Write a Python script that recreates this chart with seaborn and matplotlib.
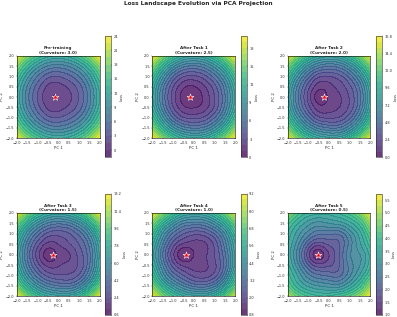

import matplotlib
matplotlib.use("Agg")
import matplotlib.pyplot as plt
import matplotlib.tri as mtri
import numpy as np
import seaborn as sns

W, H = 397, 317

pc_axis = [-2.0, -1.5, -1.0, -0.5, 0.0, 0.5, 1.0, 1.5, 2.0]
axis_ticks = [-2.0, -1.5, -1.0, -0.5, 0.0, 0.5, 1.0, 1.5, 2.0]

titles = [
    "Pre-training\n(Curvature: 3.0)",
    "After Task 1\n(Curvature: 2.5)",
    "After Task 2\n(Curvature: 2.0)",
    "After Task 3\n(Curvature: 1.5)",
    "After Task 4\n(Curvature: 1.0)",
    "After Task 5\n(Curvature: 0.5)",
]

# minimum found in each panel (the star)
star_x = [-0.15, -0.2, -0.23, -0.26, -0.39, -0.52]
star_y = [0.0, 0.0, 0.0, 0.0, 0.0, 0.0]

# rows run from PC 2 = 2.0 at the top down to PC 2 = -2.0
loss_pre = [
    [23.9, 18.75, 15.0, 12.75, 12.0, 12.75, 15.0, 18.75, 23.9],
    [18.75, 13.5, 9.75, 7.4, 6.75, 7.6, 9.75, 13.5, 18.75],
    [15.0, 9.75, 6.0, 3.5, 3.0, 4.0, 6.0, 9.75, 15.0],
    [12.75, 7.5, 3.75, 1.2, 0.8, 1.8, 3.75, 7.5, 12.75],
    [12.0, 6.75, 2.9, 0.45, 0.05, 1.05, 3.1, 6.75, 12.0],
    [12.75, 7.5, 3.75, 1.2, 0.8, 1.8, 3.75, 7.5, 12.75],
    [15.0, 9.75, 6.0, 3.5, 3.0, 4.0, 6.0, 9.75, 15.0],
    [18.75, 13.5, 9.75, 7.4, 6.75, 7.6, 9.75, 13.5, 18.75],
    [23.9, 18.75, 15.0, 12.75, 12.0, 12.75, 15.0, 18.75, 23.9],
]
loss_task1 = [
    [19.9, 15.9, 12.8, 10.9, 10.3, 10.9, 12.8, 15.9, 19.9],
    [15.9, 11.5, 8.4, 6.4, 5.9, 6.6, 8.5, 11.5, 15.9],
    [12.8, 8.4, 5.0, 3.1, 2.8, 3.6, 5.5, 8.4, 12.8],
    [10.9, 6.4, 3.1, 1.2, 0.93, 1.85, 3.6, 6.55, 10.9],
    [10.3, 5.8, 2.5, 0.58, 0.3, 1.23, 3.0, 5.9, 10.3],
    [10.9, 6.4, 3.1, 1.2, 0.93, 1.5, 3.2, 6.3, 10.9],
    [12.8, 8.4, 5.0, 3.1, 2.7, 3.2, 5.0, 8.1, 12.7],
    [15.9, 11.5, 8.4, 6.5, 5.9, 6.3, 8.1, 11.3, 15.8],
    [19.9, 15.9, 12.8, 10.9, 10.3, 10.8, 12.7, 15.8, 19.9],
]
loss_task2 = [
    [16.4, 12.9, 10.4, 8.9, 8.4, 8.9, 10.4, 12.9, 16.4],
    [12.9, 9.4, 6.9, 5.4, 4.9, 5.3, 6.8, 9.3, 12.8],
    [10.4, 6.9, 4.3, 2.6, 2.4, 2.9, 4.3, 6.7, 10.3],
    [8.9, 5.3, 2.7, 1.1, 1.3, 1.9, 3.0, 5.1, 8.8],
    [8.4, 4.8, 2.1, 0.4, 0.95, 1.5, 2.5, 4.6, 8.3],
    [8.9, 5.3, 2.7, 1.1, 1.2, 1.6, 2.6, 4.9, 8.8],
    [10.4, 6.9, 4.3, 2.6, 2.3, 2.5, 3.8, 6.3, 10.1],
    [12.9, 9.4, 6.9, 5.4, 4.8, 4.9, 6.3, 8.9, 12.7],
    [16.4, 12.9, 10.4, 8.9, 8.4, 8.6, 10.1, 12.8, 16.3],
]
loss_task3 = [
    [13.0, 10.3, 8.4, 7.3, 6.9, 7.3, 8.3, 10.2, 12.8],
    [10.3, 7.6, 5.8, 4.7, 4.3, 4.6, 5.6, 7.4, 10.2],
    [8.4, 5.7, 3.9, 2.8, 2.6, 2.9, 3.8, 5.4, 8.2],
    [7.3, 4.6, 2.7, 1.6, 1.8, 2.3, 3.0, 4.4, 7.1],
    [6.9, 4.2, 2.1, 0.9, 1.3, 1.7, 2.6, 4.0, 6.8],
    [7.3, 4.6, 2.7, 1.6, 1.7, 2.0, 2.5, 4.1, 7.0],
    [8.4, 5.7, 3.9, 2.8, 2.5, 2.5, 3.1, 4.9, 7.9],
    [10.3, 7.6, 5.8, 4.7, 4.2, 4.1, 4.9, 6.9, 9.8],
    [13.1, 10.3, 8.4, 7.3, 6.9, 6.9, 7.9, 9.9, 12.7],
]
loss_task4 = [
    [9.0, 7.3, 6.1, 5.3, 5.0, 5.2, 5.9, 7.0, 8.6],
    [7.3, 5.6, 4.4, 3.6, 3.4, 3.5, 4.2, 5.3, 7.0],
    [6.1, 4.3, 3.1, 2.4, 2.1, 2.2, 2.8, 4.0, 5.9],
    [5.3, 3.6, 2.2, 1.5, 1.4, 1.5, 2.1, 3.4, 5.2],
    [5.0, 3.2, 1.7, 0.9, 1.2, 1.5, 2.0, 3.1, 5.0],
    [5.3, 3.6, 2.2, 1.5, 1.4, 1.5, 1.9, 3.0, 5.0],
    [6.1, 4.3, 3.1, 2.4, 1.9, 1.8, 2.2, 3.5, 5.7],
    [7.3, 5.6, 4.4, 3.6, 3.1, 3.0, 3.5, 4.8, 6.7],
    [9.1, 7.3, 6.1, 5.3, 5.0, 4.9, 5.5, 6.7, 8.7],
]
loss_task5 = [
    [4.9, 4.1, 3.7, 3.6, 3.6, 3.8, 4.1, 4.7, 5.6],
    [4.1, 3.5, 3.1, 2.9, 3.0, 3.1, 3.4, 3.9, 4.9],
    [3.7, 3.1, 2.6, 2.3, 2.3, 2.3, 2.8, 3.4, 4.3],
    [3.5, 2.8, 2.0, 1.6, 1.8, 2.0, 2.6, 3.2, 3.9],
    [3.5, 2.6, 1.6, 1.1, 1.5, 2.0, 2.7, 3.0, 3.6],
    [3.6, 2.8, 2.0, 1.6, 1.7, 2.0, 2.6, 3.0, 3.7],
    [3.9, 3.2, 2.6, 2.3, 2.2, 2.2, 2.7, 3.3, 4.1],
    [4.3, 3.6, 3.2, 3.0, 2.9, 2.9, 3.3, 3.9, 4.9],
    [5.2, 4.4, 4.0, 3.8, 3.8, 4.0, 4.3, 4.9, 5.7],
]
losses = [loss_pre, loss_task1, loss_task2, loss_task3, loss_task4, loss_task5]

# colour band edges of each colorbar
level_low = [-1.5, 0.0, 0.0, 0.6, 0.8, 1.0]
level_high = [24.0, 20.0, 16.8, 13.2, 9.2, 5.75]
level_step = [1.5, 1.0, 0.8, 0.6, 0.4, 0.25]

colorbar_ticks = [
    [0, 3, 6, 9, 12, 15, 18, 21, 24],
    [0, 3, 6, 9, 12, 15, 18],
    [0.0, 2.4, 4.8, 7.2, 9.6, 12.0, 14.4, 16.8],
    [0.6, 2.4, 4.2, 6.0, 7.8, 9.6, 11.4, 13.2],
    [0.8, 2.0, 3.2, 4.4, 5.6, 6.8, 8.0, 9.2],
    [1.0, 1.5, 2.0, 2.5, 3.0, 3.5, 4.0, 4.5, 5.0, 5.5],
]

# panel and colorbar boxes in pixels: left, right
panel_x = [(16.6, 99.7), (152.3, 235.3), (287.7, 370.3)]
cbar_x = [(105.0, 111.0), (240.7, 246.7), (375.7, 382.0)]
# top, bottom for each row
panel_y = [(55.7, 138.3), (213.0, 296.3)]
cbar_y = [(36.0, 157.3), (193.7, 315.0)]


def px_box(left, right, top, bottom):
    """Convert a pixel box into figure fractions for add_axes."""
    return [left / W, 1 - bottom / H, (right - left) / W, (bottom - top) / H]


sns.set_style("white")
cmap = sns.color_palette("viridis", as_cmap=True)

fig = plt.figure(figsize=(W / 100, H / 100), dpi=100)
fig.text(0.5, 1 - 3 / H, "Loss Landscape Evolution via PCA Projection",
         ha="center", va="center", fontsize=4.2, fontweight="bold")

grid_x, grid_y = np.meshgrid(pc_axis, pc_axis)
triang = mtri.Triangulation(grid_x.ravel(), grid_y.ravel())
refiner = mtri.UniformTriRefiner(triang)

for i, loss in enumerate(losses):
    row, col = divmod(i, 3)
    ax = fig.add_axes(px_box(*panel_x[col], *panel_y[row]))
    cax = fig.add_axes(px_box(*cbar_x[col], *cbar_y[row]))

    z = np.array(loss)[::-1].ravel()
    levels = np.arange(level_low[i], level_high[i] + level_step[i] / 2, level_step[i])
    # smooth the contours over the read grid, keeping them inside the colorbar range
    fine_tri, fine_z = refiner.refine_field(z, subdiv=3)
    fine_z = np.clip(fine_z, level_low[i], level_high[i])
    filled = ax.tricontourf(fine_tri, fine_z, levels=levels, cmap=cmap, alpha=0.8,
                            antialiased=False)
    ax.tricontour(fine_tri, fine_z, levels=levels, colors="#303030",
                  alpha=0.2, linewidths=0.15)
    ax.scatter(star_x[i], star_y[i], marker="*", s=26, c="red",
               edgecolors="white", linewidths=0.4, zorder=5)

    ax.set_xlim(-2, 2)
    ax.set_ylim(-2, 2)
    ax.set_xticks(axis_ticks)
    ax.set_yticks(axis_ticks)
    ax.tick_params(labelsize=2.5, length=1, width=0.25, pad=0.8, left=True, bottom=True)
    ax.set_title(titles[i], fontsize=3.0, fontweight="bold", pad=1.5, linespacing=1.1)
    ax.set_xlabel("PC 1", fontsize=2.8, labelpad=1)
    ax.set_ylabel("PC 2", fontsize=2.8, labelpad=0.8)
    for spine in ax.spines.values():
        spine.set_linewidth(0.4)
        spine.set_color("black")

    cbar = fig.colorbar(filled, cax=cax)
    cbar.set_ticks(colorbar_ticks[i])
    cbar.ax.tick_params(labelsize=2.5, length=1, width=0.25, pad=0.8, right=True)
    cbar.set_label("Loss", fontsize=2.5, labelpad=1)
    cbar.outline.set_linewidth(0.4)

fig.savefig("out.png", dpi=100)
